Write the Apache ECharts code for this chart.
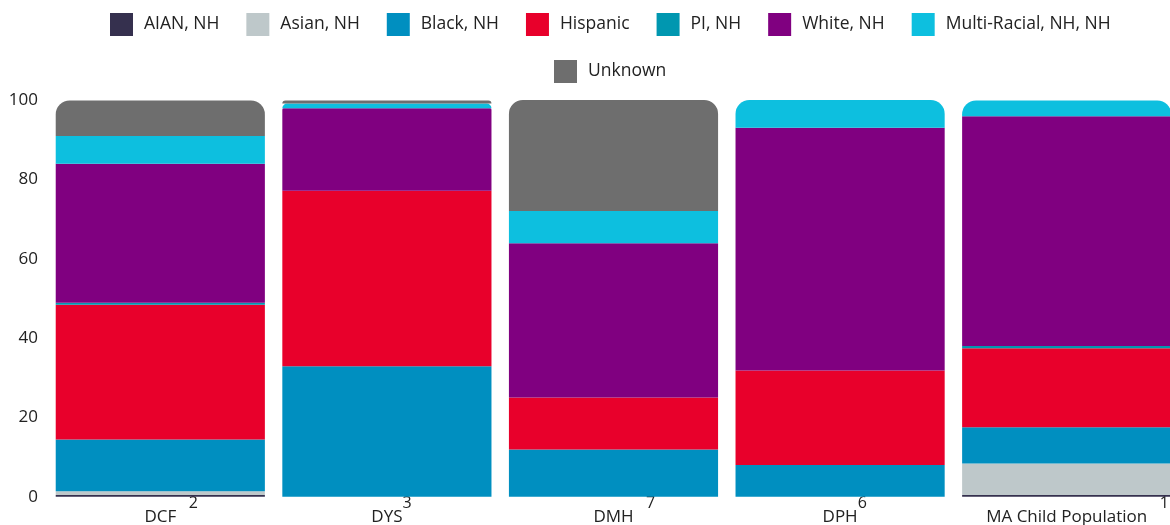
<!DOCTYPE html>
<html>
<head>
<meta charset="utf-8">
<script src="https://cdn.jsdelivr.net/npm/echarts@6/dist/echarts.min.js"></script>
<style>
  html, body { margin: 0; padding: 0; background: #fff; }
  #chart { width: 1170px; height: 525px; }
</style>
</head>
<body>
<div id="chart"></div>
<script>
const categories = ['DCF', 'DYS', 'DMH', 'DPH', 'MA Child Population'];
const notes = ['   2', '3', '   7', '6', '   1'];
const yTicks = [0, 20, 40, 60, 80, 100];

const seriesNames = ['AIAN, NH', 'Asian, NH', 'Black, NH', 'Hispanic', 'PI, NH', 'White, NH', 'Multi-Racial, NH, NH', 'Unknown'];
const aian     = [0.4, 0,    0,    0,    0.4];
const asian    = [1.0, 0,    0,    0,    8.0];
const black    = [13.0, 32.9, 11.9, 8.0, 9.1];
const hispanic = [34.0, 44.2, 13.1, 23.8, 19.9];
const pi       = [0.5, 0,    0,    0,    0.6];
const white    = [35.0, 20.8, 38.9, 61.2, 57.9];
const multi    = [7.0, 1.2,  8.1,  7.0,  4.0];
const unknown  = [9.0, 0.8,  28.0, 0,    0];

const seriesValues = [aian, asian, black, hispanic, pi, white, multi, unknown];
const colors = ['#35304e', '#bec8ca', '#008fc0', '#e8002b', '#0097b0', '#800080', '#0dbfdf', '#6e6e6e'];

const FONT = '"Open Sans", sans-serif';
const TEXT = '#222222';
const GRID = { left: 47, top: 100, width: 1133, height: 396.7, outerBoundsMode: 'none', containLabel: false };
const R = 14;
const k = GRID.height / 100;

// rounded top of each stacked bar, spread over thin top segments
function radiusFor(si, ci) {
  const v = seriesValues[si][ci];
  if (!v) return 0;
  let above = 0;
  for (let s = si + 1; s < seriesValues.length; s++) above += seriesValues[s][ci];
  const d = above * k;
  if (d >= R) return 0;
  return R - Math.sqrt(R * R - (R - d) * (R - d));
}

const series = seriesNames.map((name, si) => ({
  name,
  type: 'bar',
  stack: 'total',
  barCategoryGap: '7.7%',
  itemStyle: { color: colors[si] },
  emphasis: { disabled: true },
  data: seriesValues[si].map((v, ci) => {
    const r = radiusFor(si, ci);
    return r > 0 ? { value: v, itemStyle: { borderRadius: [r, r, 0, 0] } } : v;
  })
}));

// padding token so the main label text stays centred on its category
const ctx = document.createElement('canvas').getContext('2d');
ctx.font = '16px "Open Sans"';
const rich = {
  t: { fontSize: 17, fontFamily: FONT, color: TEXT, lineHeight: 29.5, verticalAlign: 'bottom' },
  s: { fontSize: 16, fontFamily: FONT, color: TEXT, lineHeight: 16, verticalAlign: 'top' }
};
notes.forEach((n, i) => {
  rich['p' + i] = { width: ctx.measureText(n).width, lineHeight: 16, verticalAlign: 'top', fontSize: 16 };
});

const legendCommon = {
  icon: 'rect',
  itemWidth: 23,
  itemHeight: 23,
  itemGap: 27,
  selectedMode: false,
  textStyle: { fontSize: 17.5, fontFamily: FONT, color: TEXT, padding: [0, 0, 0, 6] }
};

const chart = echarts.init(document.getElementById('chart'), null, { renderer: 'canvas' });
chart.setOption({
  animation: false,
  color: colors,
  textStyle: { fontFamily: FONT },
  legend: [
    Object.assign({}, legendCommon, { top: 8, left: 105, data: seriesNames.slice(0, 7) }),
    Object.assign({}, legendCommon, { top: 55, left: 549, data: seriesNames.slice(7) })
  ],
  grid: GRID,
  xAxis: {
    type: 'category',
    data: categories,
    axisLine: { show: false },
    axisTick: { show: false },
    axisLabel: {
      margin: -1,
      interval: 0,
      hideOverlap: false,
      formatter: (v, i) => `{p${i}| }{t|${v}}{s|${notes[i]}}`,
      rich
    }
  },
  yAxis: {
    type: 'value',
    min: yTicks[0],
    max: yTicks[yTicks.length - 1],
    interval: yTicks[1] - yTicks[0],
    axisLine: { show: false },
    axisTick: { show: false },
    splitLine: { show: false },
    axisLabel: { fontSize: 17, fontFamily: FONT, color: TEXT, margin: 9 }
  },
  series
});
</script>
</body>
</html>
